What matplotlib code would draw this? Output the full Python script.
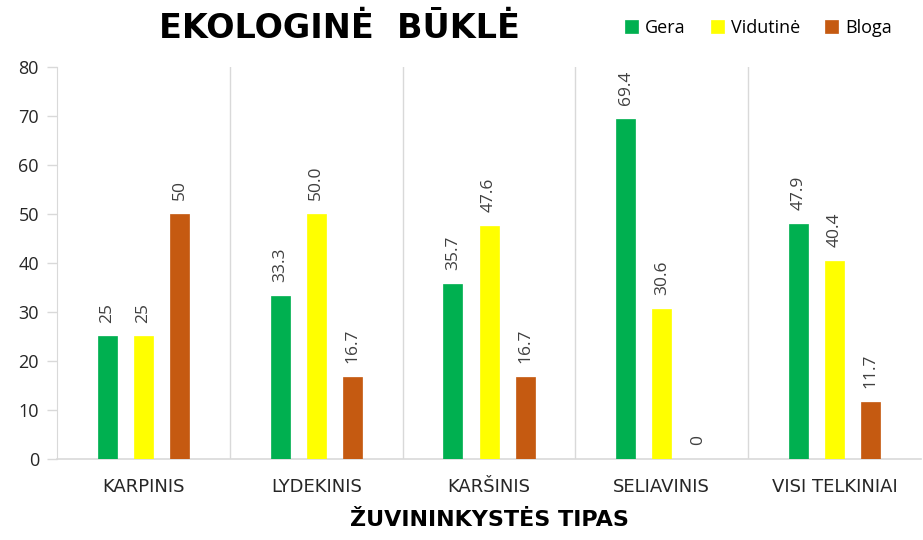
import matplotlib
matplotlib.use("Agg")
import matplotlib.pyplot as plt
import numpy as np

categories = ["KARPINIS", "LYDEKINIS", "KARŠINIS", "SELIAVINIS", "VISI TELKINIAI"]
series_names = ["Gera", "Vidutinė", "Bloga"]
gera = [25, 33.3, 35.7, 69.4, 47.9]
vidutine = [25, 50.0, 47.6, 30.6, 40.4]
bloga = [50, 16.7, 16.7, 0, 11.7]
gera_labels = ["25", "33.3", "35.7", "69.4", "47.9"]
vidutine_labels = ["25", "50.0", "47.6", "30.6", "40.4"]
bloga_labels = ["50", "16.7", "16.7", "0", "11.7"]
y_ticks = [0, 10, 20, 30, 40, 50, 60, 70, 80]

colors = ["#00B050", "#FFFF00", "#C55A11"]
sans = ["Open Sans", "DejaVu Sans"]

fig = plt.figure(figsize=(9.23, 5.40), dpi=100)
ax = fig.add_axes([0.0618, 0.15, 0.936, 0.7265])

x = np.arange(len(categories))
width = 0.11
pitch = 0.209
all_vals = [gera, vidutine, bloga]
all_labels = [gera_labels, vidutine_labels, bloga_labels]
for i, (vals, labs, col, name) in enumerate(zip(all_vals, all_labels, colors, series_names)):
    pos = x + (i - 1) * pitch
    ax.bar(pos, vals, width=width, color=col, label=name, zorder=3,
           edgecolor=col, linewidth=0.5)
    for p, v, t in zip(pos, vals, labs):
        ax.annotate(t, (p, v), xytext=(0, 10), textcoords="offset points",
                    rotation=90, ha="center", va="bottom", fontsize=12.5,
                    color="#404040", family=sans)

ax.set_xlim(-0.5, len(categories) - 0.5)
ax.set_ylim(0, 80)
ax.set_yticks(y_ticks)
ax.set_yticklabels([str(t) for t in y_ticks], fontsize=13, color="#262626",
                   family=sans)
ax.tick_params(axis="y", length=7, color="#D9D9D9", width=1, pad=6)
ax.set_xticks(x)
ax.set_xticklabels(categories, fontsize=13, color="#262626",
                   family=["DejaVu Sans"])
ax.tick_params(axis="x", length=0, pad=14)

for b in np.arange(0.5, len(categories) - 0.5, 1.0):
    ax.axvline(b, color="#D9D9D9", linewidth=1, zorder=1)

for s in ["top", "right"]:
    ax.spines[s].set_visible(False)
ax.spines["left"].set_color("#D9D9D9")
ax.spines["bottom"].set_color("#D9D9D9")
ax.spines["bottom"].set_linewidth(1.2)

ax.set_xlabel("ŽUVININKYSTĖS TIPAS", fontsize=16, fontweight="bold",
              family=["DejaVu Sans"], labelpad=10, color="black")

fig.text(0.368, 0.948, "EKOLOGINĖ  BŪKLĖ", fontsize=24, fontweight="bold",
         ha="center", va="center", family=["DejaVu Sans"], color="black")

leg = fig.legend(loc="center", bbox_to_anchor=(0.822, 0.948), ncol=3,
                 frameon=False, handlelength=0.7, handleheight=0.7,
                 handletextpad=0.4, columnspacing=1.4,
                 prop={"family": sans, "size": 13})

fig.savefig("out.png", dpi=100, facecolor="white")
